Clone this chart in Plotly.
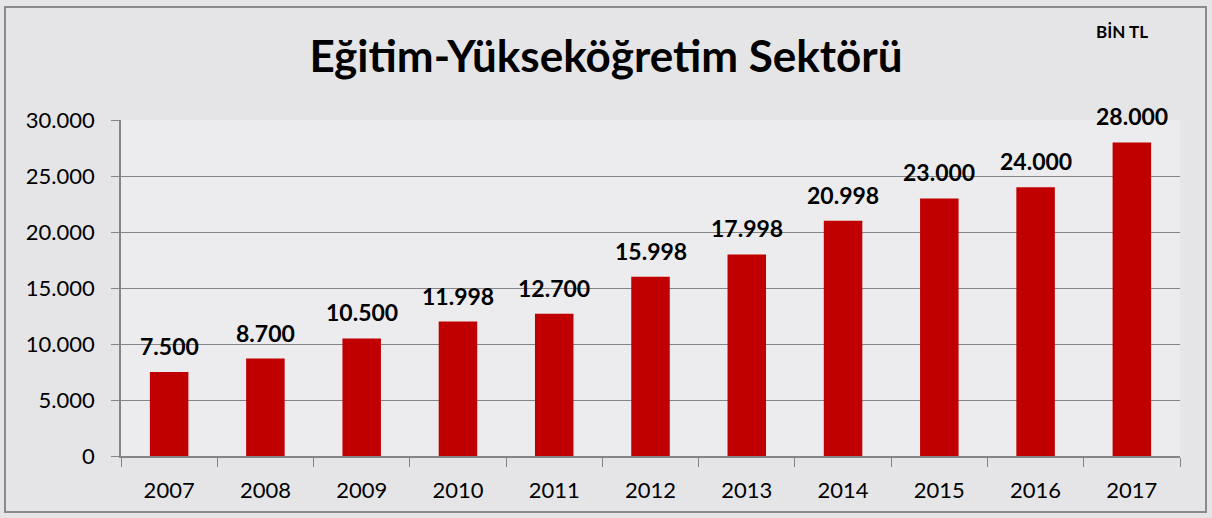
import plotly.graph_objects as go

years = ["2007", "2008", "2009", "2010", "2011", "2012", "2013", "2014", "2015", "2016", "2017"]
values = [7500, 8700, 10500, 11998, 12700, 15998, 17998, 20998, 23000, 24000, 28000]
y_ticks = [0, 5000, 10000, 15000, 20000, 25000, 30000]

FONT = "Lato, 'Open Sans', sans-serif"


def fmt(v):
    return f"{v:,}".replace(",", ".")


fig = go.Figure(go.Bar(
    x=years, y=values,
    marker=dict(color="#c00000", line=dict(width=0)),
    hoverinfo="x+y",
))

PW, PH = 1059, 336
# category axis positions are the category indices
annotations = [dict(x=i, y=v, xref="x", yref="y", text=f"<b>{fmt(v)}</b>", showarrow=False,
                    yanchor="bottom", xanchor="center", yshift=10,
                    font=dict(size=23, family=FONT, color="black"))
               for i, v in enumerate(values)]
annotations.append(dict(text="<b>BİN TL</b>", xref="paper", yref="paper", x=(1122 - 121) / PW,
                        y=(456 - 31) / PH, showarrow=False, font=dict(size=17, family=FONT),
                        xanchor="center", yanchor="middle"))

fig.update_layout(
    width=1212, height=518,
    margin=dict(l=121, r=32, t=120, b=62),
    paper_bgcolor="#e5e5e7", plot_bgcolor="#ececee",
    separators=",.",
    bargap=0.6,
    showlegend=False,
    font=dict(family=FONT, color="black"),
    title=dict(text="<b>Eğitim-Yükseköğretim Sektörü</b>", x=0.5, xanchor="center",
               y=1 - 57 / 518, yanchor="middle", font=dict(size=44, family=FONT, color="black")),
    annotations=annotations,
    shapes=[dict(type="rect", xref="paper", yref="paper",
                 x0=-116 / PW, x1=(1206 - 121) / PW, y0=-(512 - 456) / PH, y1=(456 - 7) / PH,
                 line=dict(color="#8a8a8a", width=2), fillcolor="rgba(0,0,0,0)")],
)

fig.update_xaxes(
    type="category", range=[-0.5, len(years) - 0.5],
    showgrid=False, showline=True, linecolor="#858585", linewidth=1.5,
    ticks="outside", tickson="boundaries", ticklen=9, tickcolor="#858585",
    tickfont=dict(size=22, family=FONT), ticklabelstandoff=14,
)
fig.update_yaxes(
    range=[0, 30000], tickvals=y_ticks, tickformat=",.0f",
    showgrid=True, gridcolor="#858585", gridwidth=1.4,
    showline=True, linecolor="#858585", linewidth=1.5,
    ticks="outside", ticklen=8, tickcolor="#858585",
    tickfont=dict(size=22, family=FONT), zeroline=False, ticklabelstandoff=12,
)

fig.write_html("out.html", config={"displayModeBar": False},
               post_script="document.body.style.margin='0';document.body.style.overflow='hidden';")
